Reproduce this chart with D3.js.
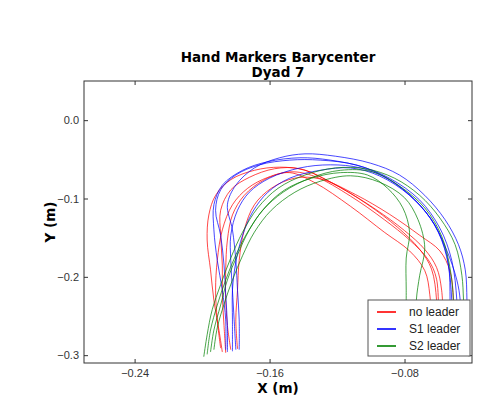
<!DOCTYPE html>
<html lang="en">
    <head>
        <meta charset="utf-8">
        <title>hand_markers_dyad7</title>
        <script type="text/javascript" src="https://cdn.jsdelivr.net/npm/d3@7/dist/d3.min.js"></script>
        <style>
            body { margin: 0; background: #fff; }
            .axis text { font-family: "Liberation Sans", Arial, sans-serif; font-size: 11px; fill: #333; }
            .axis line { stroke: #333; }
        </style>
    </head>

    <body>
        <script type="text/javascript">
        var w = 489;
        var h = 399;
        var margin = {top: 81, right: 17, bottom: 36, left: 84};

        // Tick values
        var xTicks = [-0.24, -0.16, -0.08];
        var yTicks = [0.0, -0.1, -0.2, -0.3];

        // Series names and colours (legend order)
        var seriesNames = ["no leader", "S1 leader", "S2 leader"];
        var seriesColors = ["#ff0000", "#0000ff", "#008000"];

        // Barycenter trajectories, [x (m), y (m)]
        var noLeader = [
            [[-0.188,-0.296],[-0.190,-0.268],[-0.193,-0.230],[-0.195,-0.191],[-0.197,-0.153],[-0.196,-0.121],[-0.192,-0.096],[-0.183,-0.076],[-0.169,-0.064],[-0.154,-0.060],[-0.139,-0.064],[-0.118,-0.086],[-0.097,-0.114],[-0.080,-0.141],[-0.068,-0.165],[-0.061,-0.188],[-0.058,-0.217],[-0.057,-0.268]],
            [[-0.183,-0.293],[-0.185,-0.262],[-0.186,-0.230],[-0.186,-0.191],[-0.185,-0.153],[-0.182,-0.121],[-0.175,-0.096],[-0.163,-0.076],[-0.148,-0.066],[-0.133,-0.072],[-0.112,-0.097],[-0.092,-0.127],[-0.077,-0.153],[-0.066,-0.178],[-0.061,-0.203],[-0.060,-0.268]],
            [[-0.179,-0.292],[-0.180,-0.255],[-0.179,-0.217],[-0.178,-0.179],[-0.175,-0.140],[-0.169,-0.108],[-0.159,-0.087],[-0.145,-0.074],[-0.130,-0.075],[-0.109,-0.095],[-0.089,-0.120],[-0.071,-0.147],[-0.059,-0.167],[-0.053,-0.193],[-0.051,-0.230],[-0.051,-0.268]],
            [[-0.186,-0.297],[-0.187,-0.262],[-0.188,-0.223],[-0.188,-0.185],[-0.189,-0.147],[-0.189,-0.115],[-0.183,-0.089],[-0.172,-0.073],[-0.157,-0.062],[-0.142,-0.062],[-0.124,-0.079],[-0.103,-0.106],[-0.084,-0.137],[-0.071,-0.165],[-0.064,-0.190],[-0.061,-0.230],[-0.061,-0.268]],
            [[-0.189,-0.291],[-0.191,-0.255],[-0.192,-0.217],[-0.191,-0.179],[-0.188,-0.140],[-0.182,-0.108],[-0.173,-0.087],[-0.161,-0.073],[-0.148,-0.067],[-0.133,-0.080],[-0.112,-0.110],[-0.092,-0.143],[-0.077,-0.167],[-0.068,-0.192],[-0.065,-0.223],[-0.064,-0.268]]
        ];

        var s1Leader = [
            [[-0.178,-0.293],[-0.178,-0.255],[-0.179,-0.217],[-0.180,-0.179],[-0.182,-0.140],[-0.185,-0.108],[-0.180,-0.083],[-0.169,-0.061],[-0.154,-0.048],[-0.139,-0.043],[-0.121,-0.046],[-0.100,-0.055],[-0.083,-0.070],[-0.068,-0.096],[-0.056,-0.127],[-0.048,-0.159],[-0.044,-0.191],[-0.043,-0.230],[-0.043,-0.268]],
            [[-0.185,-0.296],[-0.185,-0.262],[-0.186,-0.223],[-0.187,-0.185],[-0.189,-0.147],[-0.192,-0.115],[-0.189,-0.089],[-0.180,-0.070],[-0.166,-0.057],[-0.148,-0.051],[-0.130,-0.051],[-0.109,-0.057],[-0.089,-0.074],[-0.071,-0.102],[-0.059,-0.138],[-0.052,-0.179],[-0.049,-0.230],[-0.049,-0.268]],
            [[-0.180,-0.293],[-0.181,-0.255],[-0.182,-0.217],[-0.183,-0.179],[-0.183,-0.147],[-0.179,-0.115],[-0.172,-0.092],[-0.160,-0.074],[-0.142,-0.061],[-0.124,-0.057],[-0.106,-0.061],[-0.089,-0.076],[-0.074,-0.102],[-0.062,-0.134],[-0.055,-0.172],[-0.052,-0.230],[-0.052,-0.268]],
            [[-0.182,-0.295],[-0.182,-0.255],[-0.182,-0.217],[-0.180,-0.181],[-0.176,-0.147],[-0.170,-0.117],[-0.161,-0.092],[-0.148,-0.074],[-0.130,-0.064],[-0.112,-0.061],[-0.095,-0.071],[-0.077,-0.096],[-0.064,-0.127],[-0.055,-0.166],[-0.049,-0.204],[-0.047,-0.230],[-0.047,-0.268]],
            [[-0.186,-0.293],[-0.186,-0.255],[-0.188,-0.217],[-0.191,-0.179],[-0.193,-0.140],[-0.193,-0.108],[-0.188,-0.083],[-0.176,-0.064],[-0.161,-0.053],[-0.142,-0.048],[-0.124,-0.051],[-0.103,-0.061],[-0.086,-0.080],[-0.071,-0.108],[-0.060,-0.143],[-0.054,-0.185],[-0.053,-0.230],[-0.053,-0.268]]
        ];

        var s2Leader = [
            [[-0.199,-0.302],[-0.197,-0.274],[-0.194,-0.242],[-0.189,-0.210],[-0.183,-0.176],[-0.176,-0.143],[-0.167,-0.112],[-0.155,-0.087],[-0.139,-0.070],[-0.121,-0.061],[-0.103,-0.062],[-0.086,-0.074],[-0.071,-0.096],[-0.059,-0.125],[-0.050,-0.159],[-0.046,-0.198],[-0.045,-0.230],[-0.044,-0.268]],
            [[-0.195,-0.296],[-0.193,-0.268],[-0.189,-0.236],[-0.185,-0.204],[-0.179,-0.172],[-0.172,-0.140],[-0.163,-0.112],[-0.151,-0.089],[-0.135,-0.074],[-0.118,-0.067],[-0.102,-0.070],[-0.090,-0.087],[-0.081,-0.112],[-0.077,-0.143],[-0.079,-0.176],[-0.079,-0.217],[-0.079,-0.268]],
            [[-0.197,-0.299],[-0.195,-0.268],[-0.191,-0.236],[-0.186,-0.204],[-0.180,-0.172],[-0.173,-0.143],[-0.164,-0.115],[-0.152,-0.092],[-0.136,-0.074],[-0.118,-0.064],[-0.099,-0.066],[-0.083,-0.084],[-0.068,-0.112],[-0.058,-0.148],[-0.053,-0.189],[-0.051,-0.230],[-0.051,-0.268]],
            [[-0.193,-0.293],[-0.191,-0.265],[-0.187,-0.235],[-0.182,-0.204],[-0.176,-0.173],[-0.169,-0.143],[-0.159,-0.115],[-0.145,-0.092],[-0.130,-0.078],[-0.112,-0.071],[-0.095,-0.079],[-0.080,-0.099],[-0.072,-0.127],[-0.068,-0.163],[-0.071,-0.198],[-0.073,-0.230],[-0.073,-0.268]]
        ];

        var allSeries = [noLeader, s1Leader, s2Leader];

        var xScale = d3.scaleLinear()
                    .domain([-0.27, -0.04])
                    .range([margin.left, w - margin.right]);

        var yScale = d3.scaleLinear()
                    .domain([-0.31, 0.05])
                    .range([h - margin.bottom, margin.top]); // y grows upward

        var svg = d3.select("body")
                    .append("svg")
                    .attr("width", w)
                    .attr("height", h);

        svg.append("rect")
            .attr("width", w)
            .attr("height", h)
            .attr("fill", "#fff");

        svg.append("clipPath").attr("id", "plot-clip")
            .append("rect")
            .attr("x", margin.left)
            .attr("y", margin.top)
            .attr("width", w - margin.left - margin.right)
            .attr("height", h - margin.top - margin.bottom);

        var line = d3.line()
                    .x(function(d){ return xScale(d[0]); })
                    .y(function(d){ return yScale(d[1]); })
                    .curve(d3.curveCatmullRom);

        var lines = svg.append("g").attr("clip-path", "url(#plot-clip)");

        allSeries.forEach(function(series, i){
            lines.selectAll(null)
                .data(series)
                .enter()
                .append("path")
                .attr("d", line)
                .attr("fill", "none")
                .attr("stroke", seriesColors[i])
                .attr("stroke-width", 0.9)
                .attr("stroke-opacity", 0.8);
        });

        // Axes: ticks point inward on all four sides (matplotlib classic)
        var xAxis = d3.axisBottom(xScale).tickValues(xTicks).tickSize(-4).tickPadding(6).tickFormat(d3.format(".2f"));
        var yAxis = d3.axisLeft(yScale).tickValues(yTicks).tickSize(-4).tickPadding(5).tickFormat(d3.format(".1f"));
        var xAxisTop = d3.axisTop(xScale).tickValues(xTicks).tickSize(-4).tickFormat("");
        var yAxisRight = d3.axisRight(yScale).tickValues(yTicks).tickSize(-4).tickFormat("");

        svg.append("g").attr("class", "axis")
            .attr("transform", "translate(0," + (h - margin.bottom) + ")")
            .call(xAxis);
        svg.append("g").attr("class", "axis")
            .attr("transform", "translate(" + margin.left + ",0)")
            .call(yAxis);
        svg.append("g").attr("class", "axis")
            .attr("transform", "translate(0," + margin.top + ")")
            .call(xAxisTop);
        svg.append("g").attr("class", "axis")
            .attr("transform", "translate(" + (w - margin.right) + ",0)")
            .call(yAxisRight);

        svg.selectAll(".axis .domain").remove();

        // Frame
        svg.append("rect")
            .attr("x", margin.left)
            .attr("y", margin.top)
            .attr("width", w - margin.left - margin.right)
            .attr("height", h - margin.top - margin.bottom)
            .attr("fill", "none")
            .attr("stroke", "#333")
            .attr("stroke-width", 1);

        // Titles
        var cx = (margin.left + w - margin.right) / 2;
        svg.append("text")
            .attr("x", cx).attr("y", 62)
            .attr("text-anchor", "middle")
            .attr("font-family", "DejaVu Sans, Verdana, sans-serif")
            .attr("font-weight", "bold")
            .attr("font-size", 13.5)
            .text("Hand Markers Barycenter");
        svg.append("text")
            .attr("x", cx).attr("y", 77)
            .attr("text-anchor", "middle")
            .attr("font-family", "DejaVu Sans, Verdana, sans-serif")
            .attr("font-weight", "bold")
            .attr("font-size", 13.5)
            .text("Dyad 7");

        svg.append("text")
            .attr("x", cx).attr("y", 393)
            .attr("text-anchor", "middle")
            .attr("font-family", "DejaVu Sans, Verdana, sans-serif")
            .attr("font-weight", "bold")
            .attr("font-size", 13.5)
            .text("X (m)");

        svg.append("text")
            .attr("transform", "translate(55," + ((margin.top + h - margin.bottom) / 2) + ") rotate(-90)")
            .attr("text-anchor", "middle")
            .attr("font-family", "DejaVu Sans, Verdana, sans-serif")
            .attr("font-weight", "bold")
            .attr("font-size", 13.5)
            .text("Y (m)");

        // Legend, lower right
        var legend = svg.append("g").attr("transform", "translate(368,300)");
        legend.append("rect")
            .attr("width", 102)
            .attr("height", 56)
            .attr("fill", "#fff")
            .attr("stroke", "#555")
            .attr("stroke-width", 1);

        var entries = legend.selectAll("g.entry")
            .data(seriesNames)
            .enter()
            .append("g")
            .attr("class", "entry")
            .attr("transform", function(d, i){ return "translate(0," + (12 + i * 17) + ")"; });

        entries.append("line")
            .attr("x1", 9).attr("x2", 28)
            .attr("stroke", function(d, i){ return seriesColors[i]; })
            .attr("stroke-width", 1.6);

        entries.append("text")
            .attr("x", 41)
            .attr("dy", "0.35em")
            .attr("font-family", "Liberation Sans, Arial, sans-serif")
            .attr("font-size", 12)
            .attr("fill", "#222")
            .text(function(d){ return d; });

        </script>
    </body>
</html>
